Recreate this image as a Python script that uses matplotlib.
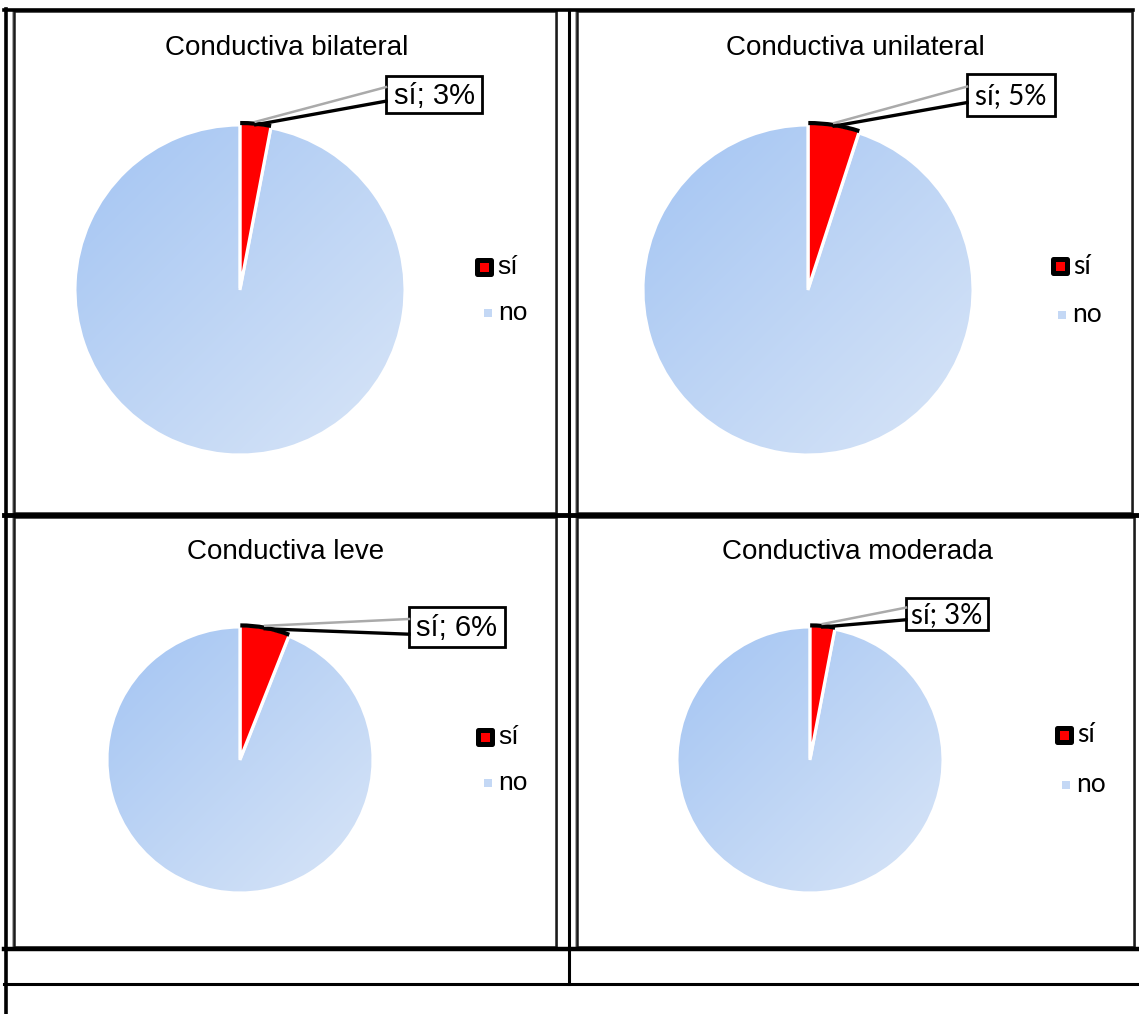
import numpy as np
import matplotlib.pyplot as plt
from matplotlib.patches import Arc, Rectangle

plt.rcParams['font.family'] = ['Liberation Sans', 'DejaVu Sans']

W, H = 1139, 1014

# datos
titulos = ['Conductiva bilateral', 'Conductiva unilateral', 'Conductiva leve', 'Conductiva moderada']
categorias = ['sí', 'no']
si = [3, 5, 6, 3]
no = [97, 95, 94, 97]

# posiciones en pixeles de cada grafico (caja, centro del pastel, radio, ...)
paneles = [
    dict(caja=(14, 11, 556, 513), centro=(240, 290), radio=165, titulo=(287, 48),
         eti=(386, 76, 482, 113), ley=(484, 267, 488, 313), fuente='Liberation Sans'),
    dict(caja=(577, 11, 1132, 513), centro=(808, 290), radio=165, titulo=(855, 48),
         eti=(967, 74, 1055, 116), ley=(1060, 266, 1062, 315), fuente='Lato'),
    dict(caja=(14, 517, 556, 947), centro=(240, 760), radio=133, titulo=(286, 552),
         eti=(409, 607, 505, 647), ley=(485, 737, 488, 783), fuente='Liberation Sans'),
    dict(caja=(577, 517, 1134, 947), centro=(810, 760), radio=133, titulo=(857, 552),
         eti=(906, 598, 988, 630), ley=(1064, 735, 1066, 785), fuente='Lato'),
]

rojo = '#ff0000'
azul_osc = np.array([0.64, 0.77, 0.95])
azul_cla = np.array([0.85, 0.90, 0.97])

fig = plt.figure(figsize=(W / 100, H / 100), dpi=100)
fig.patch.set_facecolor('white')

# ejes de fondo en pixeles (tabla, titulos, etiquetas)
bg = fig.add_axes([0, 0, 1, 1], zorder=5)
bg.set_xlim(0, W)
bg.set_ylim(H, 0)
bg.axis('off')
bg.patch.set_visible(False)

# lineas de la tabla
lw_t = 2.6
bg.plot([5.5, 5.5], [9, H], color='black', lw=lw_t)
bg.plot([4, 1133], [10, 10], color='black', lw=lw_t)
bg.plot([569, 569], [10, 984], color='black', lw=2.2)
bg.plot([4, W], [515, 515], color='black', lw=3.5)
bg.plot([4, W], [949, 949], color='black', lw=3.2)
bg.plot([4, W], [984, 984], color='black', lw=2.2)

# degradado para la parte "no"
g = np.linspace(0, 1, 300)
X, Y = np.meshgrid(g, g)
t = ((X + Y) / 2)[..., None]
degradado = azul_osc * (1 - t) + azul_cla * t

L = 1.06
for i, p in enumerate(paneles):
    x0, y0, x1, y1 = p['caja']
    bg.add_patch(Rectangle((x0 - 1.2, y0 - 1.2), x1 - x0 + 2.4, y1 - y0 + 2.4,
                           fill=False, ec='#999999', lw=1.2))
    bg.add_patch(Rectangle((x0, y0), x1 - x0, y1 - y0, fill=False, ec='#1a1a1a', lw=1.8))

    bg.text(p['titulo'][0], p['titulo'][1], titulos[i], ha='center', va='center',
            fontsize=20, color='black')

    cx, cy = p['centro']
    r = p['radio']
    pa = fig.add_axes([(cx - r * L) / W, 1 - (cy + r * L) / H, 2 * r * L / W, 2 * r * L / H])
    pa.patch.set_visible(False)
    frac = si[i] / (si[i] + no[i])
    expl = 0.012
    cunas, _ = pa.pie([si[i], no[i]], startangle=90, counterclock=False,
                      explode=[expl, 0], colors=[rojo, 'none'],
                      wedgeprops=dict(edgecolor='white', linewidth=2.2))
    img = pa.imshow(degradado, extent=(-1, 1, -1, 1), zorder=0.5)
    img.set_clip_path(cunas[1])
    cunas[1].set_zorder(1)
    cunas[0].set_zorder(2)
    medio = np.deg2rad(90 - 180 * frac)
    ox, oy = expl * np.cos(medio), expl * np.sin(medio)
    pa.add_patch(Arc((ox, oy), 2, 2, theta1=90 - 360 * frac, theta2=90,
                     color='black', lw=3, zorder=3))
    pa.set_xlim(-L, L)
    pa.set_ylim(-L, L)
    pa.set_aspect('equal')
    pa.axis('off')

    # etiqueta con linea guia
    ex = cx + (ox + np.cos(medio)) * r
    ey = cy - (oy + np.sin(medio)) * r
    ex0, ey0, ex1, ey1 = p['eti']
    alto = ey1 - ey0
    bg.plot([ex0, ex], [ey0 + alto * 0.3, ey - 2], color='#aaaaaa', lw=1.8)
    bg.plot([ex0, ex], [ey0 + alto * 0.68, ey + 1], color='black', lw=2.4)
    bg.add_patch(Rectangle((ex0, ey0), ex1 - ex0, alto, fc='white', ec='black', lw=2))
    tam = 21 if p['fuente'] == 'Liberation Sans' else 20
    bg.text((ex0 + ex1) / 2, (ey0 + ey1) / 2 + 1, f'{categorias[0]}; {si[i]}%',
            ha='center', va='center', fontsize=tam, family=[p['fuente'], 'DejaVu Sans'])

    # leyenda
    sx, sy, nx, ny = p['ley']
    bg.scatter([sx], [sy], s=95, marker='s', color=rojo, edgecolors='black',
               linewidths=3.6, zorder=6)
    bg.scatter([nx], [ny], s=34, marker='s', color='#c4d8f5', edgecolors='none', zorder=6)
    bg.text(sx + 13, sy, categorias[0], ha='left', va='center', fontsize=19,
            family=[p['fuente'], 'DejaVu Sans'])
    bg.text(nx + 10, ny, categorias[1], ha='left', va='center', fontsize=19,
            family=[p['fuente'], 'DejaVu Sans'])

fig.savefig('out.png', dpi=100, facecolor='white')
